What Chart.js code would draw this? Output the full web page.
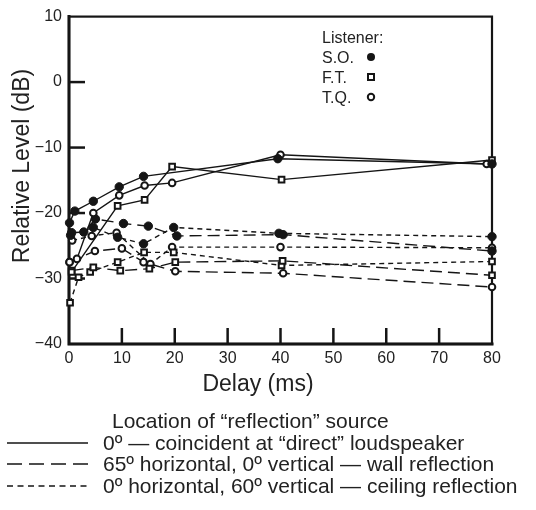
<!DOCTYPE html>
<html>
<head>
<meta charset="utf-8">
<script src="https://cdn.jsdelivr.net/npm/chart.js@4.4.1/dist/chart.umd.min.js"></script>
<style>
  html, body { margin: 0; padding: 0; background: #fff; }
  #wrap { position: relative; width: 536px; height: 510px; }
</style>
</head>
<body>
<div id="wrap"><canvas id="chart" width="536" height="510"></canvas></div>
<script>
// ========================================
// DATA (delay in ms, relative level in dB)
// ========================================

const xTicks = [0, 10, 20, 30, 40, 50, 60, 70, 80];
const yTicks = [-40, -30, -20, -10, 0, 10];
const yTickLabels = ['\u221240', '\u221230', '\u221220', '\u221210', '0', '10'];

// 0º coincident at "direct" loudspeaker (solid)
const soDirectDelay = [0.1, 1.1, 4.6, 9.5, 14.1, 39.5, 80];
const soDirectLevel = [-21.5, -19.7, -18.2, -16.0, -14.4, -11.7, -12.5];
const ftDirectDelay = [0.5, 9.2, 14.3, 19.5, 40.2, 80];
const ftDirectLevel = [-29.0, -18.9, -18.0, -12.9, -14.9, -11.9];
const tqDirectDelay = [0.1, 1.5, 4.6, 9.5, 14.3, 19.5, 40, 79];
const tqDirectLevel = [-27.5, -27.0, -20.0, -17.3, -15.8, -15.4, -11.1, -12.5];

// 65º horizontal, 0º vertical — wall reflection (long dash)
const soWallDelay = [0.5, 2.8, 5.0, 10.3, 15.0, 20.4, 40.5, 80];
const soWallLevel = [-23.0, -22.9, -20.9, -21.6, -22.0, -23.5, -23.3, -25.8];
const ftWallDelay = [0.5, 4.6, 9.7, 15.2, 20.1, 40.4, 80];
const ftWallLevel = [-28.8, -28.3, -28.8, -28.5, -27.5, -27.3, -29.5];
const tqWallDelay = [0.1, 4.9, 10.0, 14.1, 20.1, 40.5, 80];
const tqWallLevel = [-27.5, -25.8, -25.4, -27.5, -28.9, -29.2, -31.3];

// 0º horizontal, 60º vertical — ceiling reflection (short dash)
const soCeilDelay = [0.3, 4.6, 9.2, 14.1, 19.8, 39.7, 80];
const soCeilLevel = [-23.4, -22.2, -23.7, -24.7, -22.2, -23.1, -23.6];
const ftCeilDelay = [0.2, 1.8, 4.0, 9.2, 14.2, 19.8, 40.2, 80];
const ftCeilLevel = [-33.7, -29.8, -29.0, -27.5, -26.0, -26.0, -28.0, -27.4];
const tqCeilDelay = [0.6, 4.3, 9.0, 15.4, 19.5, 40, 80];
const tqCeilLevel = [-24.2, -23.5, -23.0, -27.8, -25.2, -25.2, -25.3];

// ========================================
// STYLES
// ========================================

const FONT = '"Liberation Sans", Arial, Helvetica, sans-serif';
const INK = '#151515';
const TEXT = '#222';

const markerStyle = {
    'S.O.': { pointStyle: 'circle', pointRadius: 4.2, pointBackgroundColor: INK, pointBorderWidth: 1 },
    'F.T.': { pointStyle: 'rect', pointRadius: 4, pointBackgroundColor: '#fff', pointBorderWidth: 2 },
    'T.Q.': { pointStyle: 'circle', pointRadius: 3.3, pointBackgroundColor: '#fff', pointBorderWidth: 2 }
};

const dashStyle = {
    direct: [],
    wall: [12, 6],
    ceiling: [5, 4]
};

const series = [
    { listener: 'S.O.', loc: 'direct', delay: soDirectDelay, level: soDirectLevel },
    { listener: 'F.T.', loc: 'direct', delay: ftDirectDelay, level: ftDirectLevel },
    { listener: 'T.Q.', loc: 'direct', delay: tqDirectDelay, level: tqDirectLevel },
    { listener: 'S.O.', loc: 'wall', delay: soWallDelay, level: soWallLevel },
    { listener: 'F.T.', loc: 'wall', delay: ftWallDelay, level: ftWallLevel },
    { listener: 'T.Q.', loc: 'wall', delay: tqWallDelay, level: tqWallLevel },
    { listener: 'S.O.', loc: 'ceiling', delay: soCeilDelay, level: soCeilLevel },
    { listener: 'F.T.', loc: 'ceiling', delay: ftCeilDelay, level: ftCeilLevel },
    { listener: 'T.Q.', loc: 'ceiling', delay: tqCeilDelay, level: tqCeilLevel }
];

const toPoints = (s) => s.delay.map((d, i) => ({ x: d, y: s.level[i] }));

// lines first (drawn below), then markers on top
const lineSets = series.map(s => ({
    label: s.listener + ' ' + s.loc,
    data: toPoints(s),
    showLine: true,
    borderColor: INK,
    borderWidth: 1.4,
    borderDash: dashStyle[s.loc],
    pointRadius: 0,
    pointHoverRadius: 0,
    clip: false,
    order: 2
}));

const pointSets = series.map(s => ({
    label: s.listener + ' ' + s.loc + ' marks',
    data: toPoints(s),
    showLine: false,
    pointBorderColor: INK,
    ...markerStyle[s.listener],
    clip: false,
    order: 1
}));

// ========================================
// PLUGINS
// ========================================

const drawMarker = (ctx, kind, x, y) => {
    ctx.save();
    ctx.strokeStyle = INK;
    ctx.fillStyle = INK;
    if (kind === 'S.O.') {
        ctx.beginPath();
        ctx.arc(x, y, 4, 0, Math.PI * 2);
        ctx.fill();
    } else if (kind === 'F.T.') {
        ctx.lineWidth = 2;
        ctx.fillStyle = '#fff';
        ctx.fillRect(x - 3, y - 3, 6, 6);
        ctx.strokeRect(x - 3, y - 3, 6, 6);
    } else {
        ctx.lineWidth = 2;
        ctx.fillStyle = '#fff';
        ctx.beginPath();
        ctx.arc(x, y, 3.2, 0, Math.PI * 2);
        ctx.fill();
        ctx.stroke();
    }
    ctx.restore();
};

const framePlugin = {
    id: 'frame',
    beforeDatasetsDraw(chart) {
        const { ctx, chartArea: a, scales: { x, y } } = chart;
        ctx.save();
        ctx.strokeStyle = INK;
        ctx.lineCap = 'square';
        ctx.lineWidth = 2.2;
        ctx.strokeRect(a.left, a.top, a.right - a.left, a.bottom - a.top);
        ctx.lineWidth = 3;
        ctx.beginPath();
        ctx.moveTo(a.left, a.top);
        ctx.lineTo(a.left, a.bottom);
        ctx.lineTo(a.right, a.bottom);
        ctx.stroke();

        // inward tick marks
        ctx.lineWidth = 2.5;
        ctx.lineCap = 'butt';
        xTicks.slice(1, -1).forEach(v => {
            const px = x.getPixelForValue(v);
            ctx.beginPath();
            ctx.moveTo(px, a.bottom);
            ctx.lineTo(px, a.bottom - 16);
            ctx.stroke();
        });
        yTicks.slice(1, -1).forEach(v => {
            const py = y.getPixelForValue(v);
            ctx.beginPath();
            ctx.moveTo(a.left, py);
            ctx.lineTo(a.left + 16, py);
            ctx.stroke();
        });
        ctx.restore();
    },
    afterDraw(chart) {
        const { ctx } = chart;
        ctx.save();
        ctx.fillStyle = TEXT;

        // axis titles
        ctx.font = `23px ${FONT}`;
        ctx.textAlign = 'center';
        ctx.textBaseline = 'alphabetic';
        ctx.fillText('Delay (ms)', 258, 391);
        ctx.save();
        ctx.translate(29, 166);
        ctx.rotate(-Math.PI / 2);
        ctx.fillText('Relative Level (dB)', 0, 0);
        ctx.restore();

        // listener legend
        ctx.font = `16px ${FONT}`;
        ctx.textAlign = 'left';
        ctx.fillText('Listener:', 322, 43);
        const rows = [['S.O.', 57], ['F.T.', 77], ['T.Q.', 97]];
        rows.forEach(([name, cy]) => {
            ctx.fillText(name, 322, cy + 6);
            drawMarker(ctx, name, 371, cy);
        });

        // reflection source legend
        ctx.font = `21px ${FONT}`;
        ctx.fillText('Location of \u201creflection\u201d source', 112, 428);
        const locRows = [
            ['direct', '0\u00ba \u2014 coincident at \u201cdirect\u201d loudspeaker', 450],
            ['wall', '65\u00ba horizontal, 0\u00ba vertical \u2014 wall reflection', 471],
            ['ceiling', '0\u00ba horizontal, 60\u00ba vertical \u2014 ceiling reflection', 493]
        ];
        locRows.forEach(([loc, label, base]) => {
            ctx.fillText(label, 103, base);
            ctx.strokeStyle = INK;
            ctx.lineWidth = 1.4;
            ctx.setLineDash(loc === 'wall' ? [15, 7] : loc === 'ceiling' ? [6, 4.5] : []);
            ctx.beginPath();
            ctx.moveTo(7, base - 7);
            ctx.lineTo(88, base - 7);
            ctx.stroke();
            ctx.setLineDash([]);
        });
        ctx.restore();
    }
};

// ========================================
// CHART
// ========================================

new Chart(document.getElementById('chart'), {
    type: 'scatter',
    data: { datasets: [...lineSets, ...pointSets] },
    options: {
        responsive: false,
        animation: false,
        devicePixelRatio: 1,
        layout: { padding: { top: 14, right: 44, left: 0, bottom: 0 } },
        plugins: {
            legend: { display: false },
            tooltip: { enabled: false }
        },
        scales: {
            x: {
                type: 'linear',
                min: 0,
                max: 80,
                afterFit: (scale) => { scale.height = 166; },
                afterBuildTicks: (scale) => { scale.ticks = xTicks.map(v => ({ value: v })); },
                grid: { display: false, drawTicks: false },
                border: { display: false },
                ticks: {
                    color: TEXT,
                    padding: 5,
                    font: { family: FONT, size: 16 },
                    maxRotation: 0
                }
            },
            y: {
                type: 'linear',
                min: -40,
                max: 10,
                afterFit: (scale) => { scale.width = 69; },
                afterBuildTicks: (scale) => { scale.ticks = yTicks.map(v => ({ value: v })); },
                grid: { display: false, drawTicks: false },
                border: { display: false },
                ticks: {
                    color: TEXT,
                    padding: 7,
                    font: { family: FONT, size: 16 },
                    callback: (value) => yTickLabels[yTicks.indexOf(value)]
                }
            }
        }
    },
    plugins: [framePlugin]
});
</script>
</body>
</html>
